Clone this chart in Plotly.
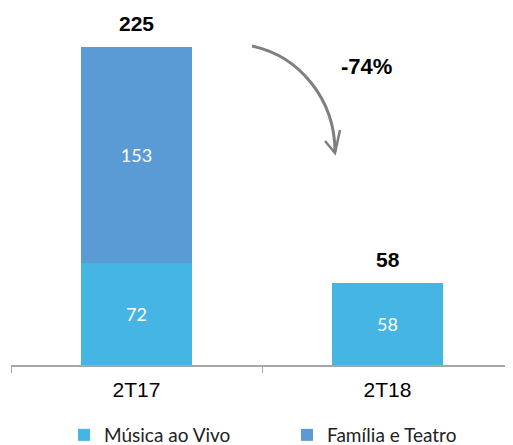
import plotly.graph_objects as go

categories = ["2T17", "2T18"]
musica = [72, 58]
familia = [153, None]
totals = [225, 58]
change_label = "-74%"
series_names = ["Música ao Vivo", "Família e Teatro"]

c_musica = "#45B5E4"
c_familia = "#5B9BD5"

fig = go.Figure()
fig.add_trace(go.Bar(
    x=categories, y=musica, name=series_names[0], marker_color=c_musica,
    marker_line_width=0,
    text=musica, textposition="inside", insidetextanchor="middle",
    textfont=dict(color="white", size=18, family="Lato"),
))
fig.add_trace(go.Bar(
    x=categories, y=familia, name=series_names[1], marker_color=c_familia,
    marker_line_width=0,
    text=familia, textposition="inside", insidetextanchor="middle",
    textfont=dict(color="white", size=18, family="Lato"),
))

for c, t in zip(categories, totals):
    fig.add_annotation(x=c, y=t, text=f"<b>{t}</b>", showarrow=False,
                       yanchor="bottom", yshift=10,
                       font=dict(size=21, color="black", family="Liberation Sans"))

fig.add_annotation(xref="paper", yref="paper", x=(366 - 11) / 502, y=(365 - 66) / 355,
                   xanchor="center", yanchor="middle",
                   text=f"<b>{change_label}</b>", showarrow=False,
                   font=dict(size=22, color="black", family="Liberation Sans"))

# curved arrow (paper coordinates)
def px(x):
    return (x - 11) / 502
def py(y):
    return (365 - y) / 355

path = f"M {px(252)},{py(46)} C {px(300)},{py(56)} {px(335)},{py(100)} {px(335)},{py(152)}"
fig.add_shape(type="path", xref="paper", yref="paper", path=path,
              line=dict(color="#7F7F7F", width=3))
head = f"M {px(325)},{py(141)} L {px(335)},{py(153)} L {px(340)},{py(130)}"
fig.add_shape(type="path", xref="paper", yref="paper", path=head,
              line=dict(color="#7F7F7F", width=2.5))

# page body has an 8px margin, so the figure is 8px smaller and offset
W, H = 505, 437
fig.update_layout(
    width=W, height=H,
    margin=dict(l=3, r=0, t=2, b=80, autoexpand=False),
    barmode="stack", bargap=0.556,
    plot_bgcolor="white", paper_bgcolor="white",
    showlegend=True,
    legend=dict(orientation="h", x=px(64), xanchor="left",
                yref="container", y=(H - 427) / H, yanchor="middle",
                font=dict(size=19, family="Lato", color="#222"),
                itemwidth=30, entrywidth=178, entrywidthmode="pixels",
                traceorder="normal"),
    xaxis=dict(showline=True, linecolor="#A6A6A6", linewidth=1.5,
               ticks="outside", tickson="boundaries", ticklen=6, tickcolor="#A6A6A6",
               ticklabelstandoff=5,
               tickfont=dict(size=21, family="Liberation Sans", color="black")),
    yaxis=dict(range=[0, 251], visible=False, showgrid=False),
)

fig.write_html("out.html")
